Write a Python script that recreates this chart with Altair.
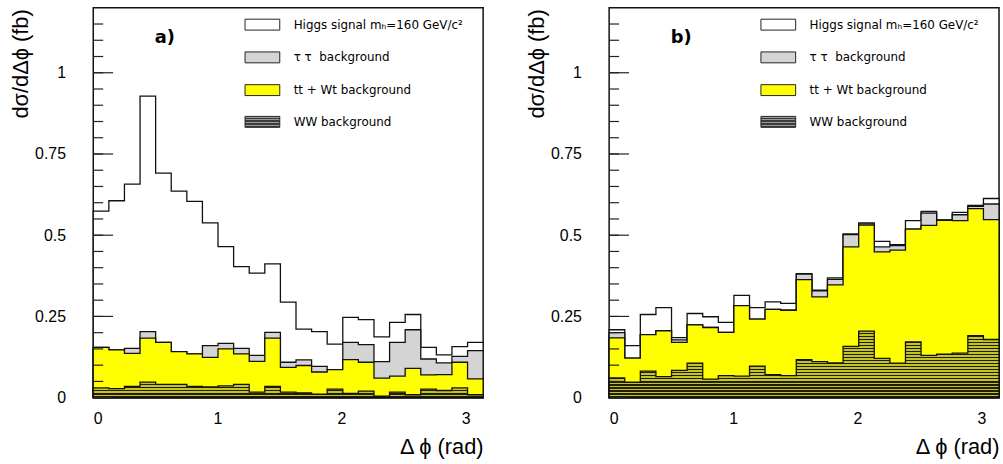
import math
import altair as alt
import pandas as pd

# ---------------- data (stacked tops) ----------------
NBINS = 25
bin_edges = [i * math.pi / NBINS for i in range(NBINS + 1)]

# panel a)
a_higgs = [0.574, 0.606, 0.657, 0.928, 0.691, 0.636, 0.604, 0.538, 0.465, 0.403,
           0.383, 0.412, 0.294, 0.211, 0.203, 0.165, 0.247, 0.240, 0.187, 0.232,
           0.256, 0.155, 0.132, 0.157, 0.170]
a_tautau = [0.155, 0.147, 0.152, 0.203, 0.170, 0.142, 0.135, 0.160, 0.167, 0.152,
            0.130, 0.201, 0.109, 0.116, 0.096, 0.086, 0.170, 0.163, 0.111, 0.170,
            0.209, 0.119, 0.107, 0.127, 0.145]
a_tt = [0.155, 0.147, 0.136, 0.183, 0.170, 0.142, 0.135, 0.124, 0.150, 0.135,
        0.112, 0.183, 0.093, 0.099, 0.079, 0.086, 0.117, 0.109, 0.060, 0.066,
        0.090, 0.070, 0.071, 0.109, 0.058]
a_ww = [0.030, 0.028, 0.035, 0.048, 0.041, 0.041, 0.035, 0.033, 0.036, 0.041,
        0.017, 0.035, 0.017, 0.015, 0.011, 0.026, 0.013, 0.020, 0.005, 0.017,
        0.009, 0.026, 0.022, 0.030, 0.009]

# panel b)
b_higgs = [0.209, 0.160, 0.256, 0.277, 0.185, 0.259, 0.249, 0.232, 0.315, 0.277,
           0.295, 0.290, 0.382, 0.331, 0.369, 0.504, 0.538, 0.481, 0.471, 0.545,
           0.573, 0.546, 0.570, 0.592, 0.613]
b_tautau = [0.200, 0.122, 0.194, 0.206, 0.178, 0.224, 0.216, 0.201, 0.283, 0.242,
            0.272, 0.269, 0.380, 0.329, 0.364, 0.502, 0.535, 0.464, 0.468, 0.519,
            0.568, 0.546, 0.563, 0.589, 0.596]
b_tt = [0.184, 0.122, 0.194, 0.206, 0.170, 0.224, 0.216, 0.201, 0.283, 0.242,
        0.272, 0.269, 0.363, 0.310, 0.347, 0.464, 0.531, 0.449, 0.454, 0.519,
        0.530, 0.546, 0.545, 0.582, 0.548]
b_ww = [0.061, 0.048, 0.082, 0.065, 0.084, 0.106, 0.057, 0.068, 0.066, 0.097,
        0.071, 0.068, 0.117, 0.111, 0.107, 0.158, 0.205, 0.121, 0.106, 0.172,
        0.130, 0.134, 0.137, 0.191, 0.179]

panel_labels = ["a)", "b)"]
legend_labels = ["Higgs signal mₕ=160 GeV/c²", "τ τ\u00a0\u00a0background",
                 "tt + Wt background", "WW background"]

y_major = [0, 0.25, 0.5, 0.75, 1.0]
y_minor = [round(0.05 * i, 2) for i in range(24)]
x_labels = [0, 1, 2, 3]

fill_higgs = "#ffffff"
fill_tautau = "#d4d4d4"
fill_tt = "#ffff00"

W, H = 393, 393
YMAX = 1.2
FONT = "Liberation Sans"


def stripes(n, c_gap, c_line):
    stops = []
    for i in range(n):
        a, m, b = i / n, (i + 0.5) / n, (i + 1) / n
        stops += [alt.GradientStop(offset=a, color=c_gap), alt.GradientStop(offset=m, color=c_gap),
                  alt.GradientStop(offset=m, color=c_line), alt.GradientStop(offset=b, color=c_line)]
    return alt.Gradient(gradient="linear", stops=stops, x1=0, x2=0, y1=0, y2=1)


legend_fills = ["#ffffff", "#d4d4d4", "#ffff00", stripes(4, "#9a9a9a", "#3c3c3c")]


def step_frame(higgs, tautau, tt, ww):
    return pd.DataFrame({
        "x": bin_edges,
        "higgs": higgs + [higgs[-1]],
        "tautau": tautau + [tautau[-1]],
        "tt": tt + [tt[-1]],
        "ww": ww + [ww[-1]],
    })


def panel(df, label):
    xs = alt.Scale(domain=[0, math.pi], nice=False, zero=False)
    ys = alt.Scale(domain=[0, YMAX], nice=False)
    base = alt.Chart(df)

    ww_px = df["ww"].max() * H / YMAX
    fill_ww = stripes(max(1, int(round(ww_px / 3.0))), "#c4c42a", "#202000")

    def area(field, fill, with_axes=False):
        if with_axes:
            xenc = alt.X("x:Q", scale=xs, axis=alt.Axis(
                values=x_labels, ticks=False, tickSize=0, domain=False, grid=False,
                labelPadding=13, labelFontSize=16, labelFont=FONT, labelColor="black",
                labelExpr="'' + datum.value",
                title="Δ ϕ (rad)", titleFont=FONT, titleFontSize=22, titleFontWeight="normal",
                titleX=W, titleY=49, titleAlign="right", titleBaseline="middle",
                titleColor="black"))
            yenc = alt.Y(f"{field}:Q", scale=ys, axis=alt.Axis(
                values=y_major, ticks=False, tickSize=0, domain=False, grid=False,
                labelPadding=28, labelFontSize=16, labelFont=FONT, labelColor="black",
                labelExpr="'' + datum.value",
                title="dσ/dΔϕ (fb)", titleFont=FONT, titleFontSize=22,
                titleFontWeight="normal", titleX=-73, titleY=1, titleAngle=-90,
                titleAlign="right", titleBaseline="middle", titleColor="black"))
        else:
            xenc = alt.X("x:Q", scale=xs)
            yenc = alt.Y(f"{field}:Q", scale=ys)
        return base.mark_area(interpolate="step-after", fill=fill, stroke="#111111",
                              strokeWidth=1.3, fillOpacity=1).encode(x=xenc, y=yenc)

    layers = [
        area("higgs", fill_higgs, with_axes=True),
        area("tautau", fill_tautau),
        area("tt", fill_tt),
        area("ww", fill_ww),
    ]

    # inward y ticks
    minor = alt.Chart(pd.DataFrame({"v": y_minor})).mark_rule(
        color="#222222", strokeWidth=1.2).encode(
        y=alt.Y("v:Q", scale=ys), x=alt.value(0), x2=alt.value(10))
    major = alt.Chart(pd.DataFrame({"v": y_major})).mark_rule(
        color="#222222", strokeWidth=1.2).encode(
        y=alt.Y("v:Q", scale=ys), x=alt.value(0), x2=alt.value(20))
    layers += [minor, major]

    # panel label
    layers.append(alt.Chart(pd.DataFrame({"t": [label]})).mark_text(
        align="left", baseline="middle", fontSize=18, fontWeight="bold",
        font="DejaVu Sans", color="black").encode(
        x=alt.value(62), y=alt.value(31), text="t:N"))

    # legend
    row_y = [17, 50, 83, 115]
    for lab, fill, cy in zip(legend_labels, legend_fills, row_y):
        d = pd.DataFrame({"t": [lab]})
        layers.append(alt.Chart(d).mark_rect(fill=fill, stroke="#222222", strokeWidth=1).encode(
            x=alt.value(153), x2=alt.value(188), y=alt.value(cy - 5.5), y2=alt.value(cy + 5.5)))
        layers.append(alt.Chart(d).mark_text(
            align="left", baseline="middle", fontSize=12, font="DejaVu Sans",
            color="black").encode(x=alt.value(202), y=alt.value(cy), text="t:N"))

    return alt.layer(*layers).properties(width=W, height=H)


pa = panel(step_frame(a_higgs, a_tautau, a_tt, a_ww), panel_labels[0])
pb = panel(step_frame(b_higgs, b_tautau, b_tt, b_ww), panel_labels[1])

chart = alt.hconcat(pa, pb, spacing=127, bounds="flush").properties(
    padding={"left": 9, "top": 5, "right": 0, "bottom": 0},
    background="white",
).configure_view(stroke="#111111", strokeWidth=1.5)

chart.save("out.html", embed_options={"renderer": "svg", "actions": False})
